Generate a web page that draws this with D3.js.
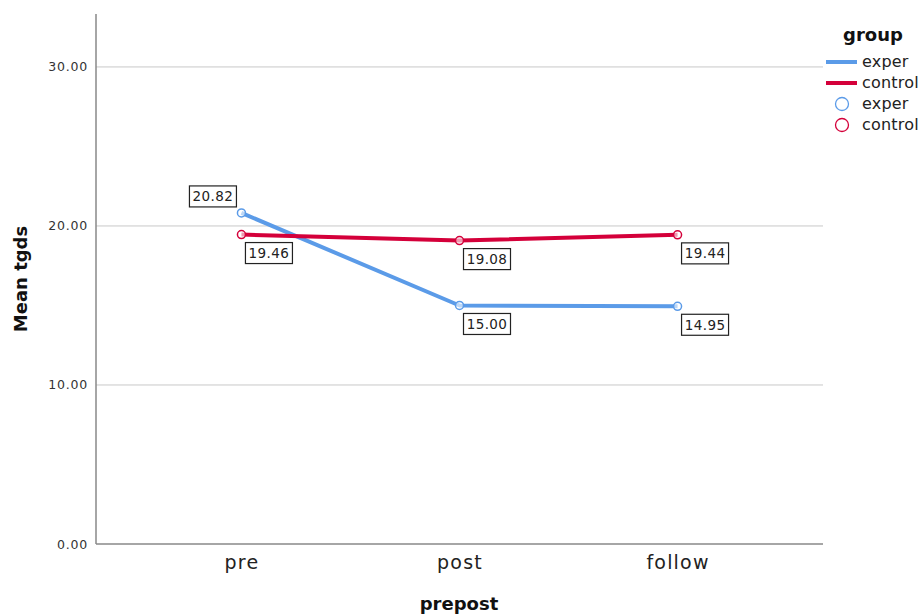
<!DOCTYPE html>
<html><head><meta charset="utf-8">
<script src="https://cdn.jsdelivr.net/npm/d3@7"></script>
<style>body{margin:0;background:#fff;} text{font-family:"DejaVu Sans",sans-serif;}</style>
</head><body><svg id="c" width="922" height="616"></svg>
<script>
const categories = ["pre", "post", "follow"];
const groups = ["exper", "control"];
const experValues = [20.82, 15.00, 14.95];
const controlValues = [19.46, 19.08, 19.44];
const yTicks = [0, 10, 20, 30];
const colors = {exper: "#5b9be8", control: "#d4003a"};

const series = [
  {name: "exper", values: experValues, labelPos: ["above", "below", "below"]},
  {name: "control", values: controlValues, labelPos: ["below", "below", "below"]}
];

const svg = d3.select("#c");
const L = 96, R = 823, T = 14, B = 544;
const x = d3.scalePoint().domain(categories).range([L, R]).padding(0.667);
const y = d3.scaleLinear().domain([0, 33.33]).range([B, T]);

// grid lines
svg.append("g").selectAll("line").data(yTicks.filter(d => d > 0)).join("line")
  .attr("x1", L).attr("x2", R).attr("y1", d => y(d)).attr("y2", d => y(d))
  .attr("stroke", "#c8c8c8").attr("stroke-width", 1);

// y axis
const ya = svg.append("g").attr("transform", `translate(${L},0)`)
  .call(d3.axisLeft(y).tickValues(yTicks).tickFormat(d3.format(".2f")).tickSize(0).tickPadding(8));
ya.select(".domain").remove();
ya.selectAll("text").attr("font-size", 12.5).attr("letter-spacing", 0.8).attr("fill", "#333").attr("font-family", "DejaVu Sans, sans-serif");
svg.append("line").attr("x1", L).attr("x2", L).attr("y1", T).attr("y2", B).attr("stroke", "#888").attr("stroke-width", 1.5);

// x axis
const xa = svg.append("g").attr("transform", `translate(0,${B})`)
  .call(d3.axisBottom(x).tickSize(0).tickPadding(12));
xa.select(".domain").remove();
xa.selectAll("text").attr("font-size", 19).attr("letter-spacing", 1.2).attr("fill", "#222").attr("font-family", "DejaVu Sans, sans-serif");
svg.append("line").attr("x1", L).attr("x2", R).attr("y1", B).attr("y2", B).attr("stroke", "#888").attr("stroke-width", 1.5);

// axis titles
svg.append("text").attr("x", 459).attr("y", 610).attr("text-anchor", "middle")
  .attr("font-size", 18).attr("font-weight", "bold").attr("fill", "#111").text("prepost");
svg.append("text").attr("transform", "translate(27,279) rotate(-90)").attr("text-anchor", "middle")
  .attr("font-size", 18).attr("font-weight", "bold").attr("fill", "#111").text("Mean tgds");

// lines
const line = d3.line().x((d, i) => x(categories[i])).y(d => y(d));
series.forEach(s => {
  svg.append("path").datum(s.values).attr("d", line).attr("fill", "none")
    .attr("stroke", colors[s.name]).attr("stroke-width", 4).attr("stroke-linejoin", "round");
});
series.forEach(s => {
  svg.append("g").selectAll("circle").data(s.values).join("circle")
    .attr("cx", (d, i) => x(categories[i])).attr("cy", d => y(d)).attr("r", 4)
    .attr("fill", "#fff").attr("fill-opacity", 0.6).attr("stroke", colors[s.name]).attr("stroke-width", 1.5);
});

// value labels
series.forEach(s => {
  s.values.forEach((v, i) => {
    const px = x(categories[i]), py = y(v);
    const w = 47, h = 21;
    let bx, by;
    if (s.labelPos[i] === "above") { bx = px - 5 - w; by = py - 6 - h; }
    else { bx = px + 4; by = py + 8; }
    const g = svg.append("g");
    g.append("rect").attr("x", bx).attr("y", by).attr("width", w).attr("height", h)
      .attr("fill", "#fff").attr("stroke", "#222").attr("stroke-width", 1.2);
    g.append("text").attr("x", bx + w / 2).attr("y", by + h / 2 + 5).attr("text-anchor", "middle")
      .attr("font-size", 13.5).attr("letter-spacing", 0.4).attr("fill", "#222").text(d3.format(".2f")(v));
  });
});

// legend
const lg = svg.append("g");
lg.append("text").attr("x", 873).attr("y", 41).attr("text-anchor", "middle")
  .attr("font-size", 18).attr("font-weight", "bold").attr("fill", "#111").text("group");
groups.forEach((gname, i) => {
  const yy = 62 + i * 21;
  lg.append("line").attr("x1", 826).attr("x2", 857).attr("y1", yy).attr("y2", yy)
    .attr("stroke", colors[gname]).attr("stroke-width", 4);
  lg.append("text").attr("x", 862).attr("y", yy + 5).attr("font-size", 16).attr("letter-spacing", 0.2).attr("fill", "#222").text(gname);
});
groups.forEach((gname, i) => {
  const yy = 104 + i * 21;
  lg.append("circle").attr("cx", 842).attr("cy", yy).attr("r", 6.5)
    .attr("fill", "none").attr("stroke", colors[gname]).attr("stroke-width", 1.3);
  lg.append("text").attr("x", 862).attr("y", yy + 5).attr("font-size", 16).attr("letter-spacing", 0.2).attr("fill", "#222").text(gname);
});
</script></body></html>
